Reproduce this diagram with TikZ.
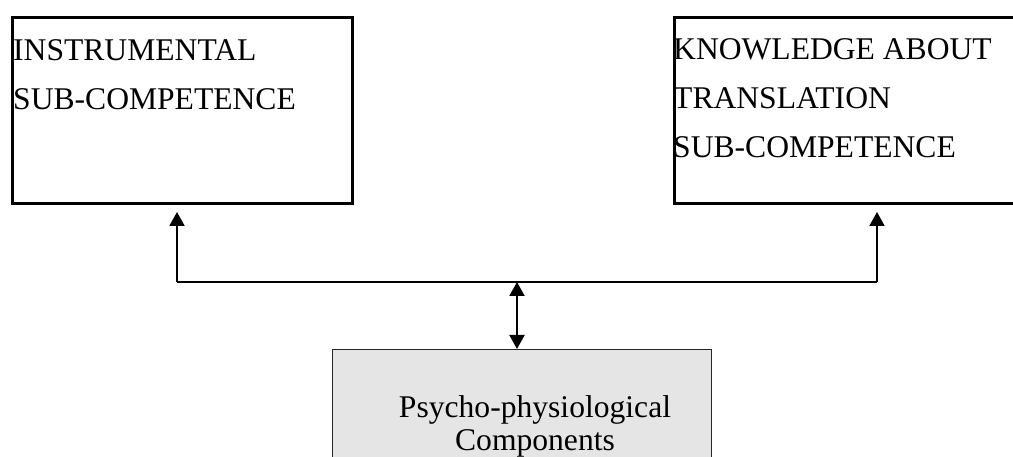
\documentclass[tikz,border=0pt]{standalone}
\usepackage{fontspec}
\setmainfont{Liberation Serif}
\usetikzlibrary{arrows.meta}
\begin{document}
\begin{tikzpicture}[x=1pt,y=-1pt,
  box/.style={draw,line width=3pt,inner sep=0pt,anchor=north west},
  graybox/.style={draw=black!85,fill=black!10,line width=1pt,inner sep=0pt,anchor=north west},
  lbl/.style={anchor=base west,inner sep=0pt,font=\fontsize{31.6}{36}\selectfont},
  clbl/.style={anchor=base,inner sep=0pt,font=\fontsize{31.6}{36}\selectfont},
  conn/.style={line width=2pt},
  arr/.style={conn,-{Triangle[width=15pt,length=14pt]}},
  dbl/.style={conn,{Triangle[width=15pt,length=14pt]}-{Triangle[width=15pt,length=14pt]}}]
\useasboundingbox (0,0) rectangle (1013,457);
% boxes
\node[box,minimum width=340pt,minimum height=186pt] (inst) at (11,16) {};
\node[box,minimum width=345pt,minimum height=186pt] (know) at (673,16) {};
\node[graybox,minimum width=379pt,minimum height=130pt] (psy) at (332,349) {};
% texts
\node[lbl] (t1) at (13,61) {INSTRUMENTAL};
\node[lbl] (t2) at (13,110) {SUB-COMPETENCE};
\node[lbl] (t3) at (673,60) {KNOWLEDGE ABOUT};
\node[lbl] (t4) at (673,109) {TRANSLATION};
\node[lbl] (t5) at (673,158) {SUB-COMPETENCE};
\node[clbl] (t6) at (535,417) {Psycho-physiological};
\node[clbl] (t7) at (535,450) {Components};
% connectors
\coordinate (jl) at (177,282);
\coordinate (jr) at (877,282);
\coordinate (jc) at (517,282);
\draw[conn] (jl) -- (jr);
\draw[arr,shorten >=7pt] (jl) -- (jl |- inst.south);
\draw[arr,shorten >=7pt] (jr) -- (jr |- know.south);
\draw[dbl] (jc) -- (jc |- psy.north);
\end{tikzpicture}
\end{document}
